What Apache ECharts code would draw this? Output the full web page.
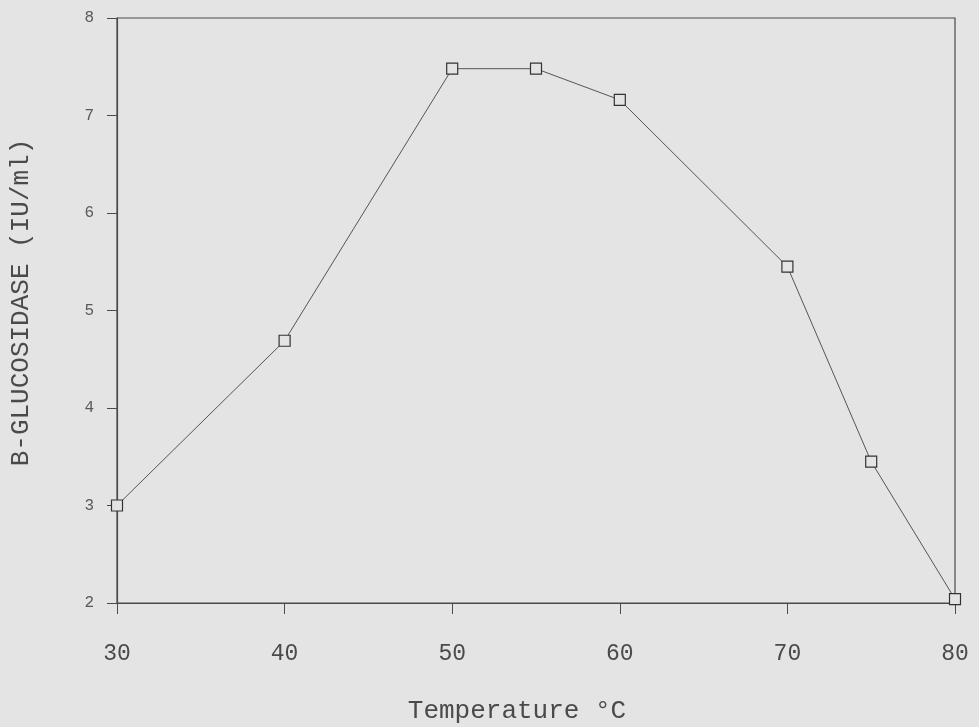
<!DOCTYPE html>
<html>
<head>
<meta charset="utf-8">
<script src="https://cdn.jsdelivr.net/npm/echarts@6/dist/echarts.min.js"></script>
<style>
html,body{margin:0;padding:0;background:#e4e4e4;}
#chart{width:979px;height:727px;}
</style>
</head>
<body>
<div id="chart"></div>
<script>
const temperatures = [30, 40, 50, 55, 60, 70, 75, 80];
const activity = [3.0, 4.69, 7.48, 7.48, 7.16, 5.45, 3.45, 2.04];
const xTicks = [30, 40, 50, 60, 70, 80];
const yTicks = [2, 3, 4, 5, 6, 7, 8];

const font = "'Liberation Mono', 'DejaVu Sans Mono', monospace";
const ink = '#4a4a4a';

const chart = echarts.init(document.getElementById('chart'), null, {renderer: 'canvas'});
chart.setOption({
  backgroundColor: '#e4e4e4',
  animation: false,
  grid: {left: 117, right: 24, top: 18, bottom: 124, outerBoundsMode: 'none', containLabel: false,
         show: true, borderColor: ink, borderWidth: 1.2, backgroundColor: 'transparent'},
  xAxis: {
    type: 'value', min: xTicks[0], max: xTicks[xTicks.length - 1], interval: 10,
    name: 'Temperature °C', nameLocation: 'middle', nameGap: 95,
    nameTextStyle: {fontFamily: font, fontSize: 26, color: ink, padding: [0, 38, 0, 0]},
    axisLine: {show: true, lineStyle: {color: ink, width: 1.2}},
    axisTick: {show: true, inside: false, length: 11, lineStyle: {color: ink}},
    axisLabel: {margin: 39, fontFamily: font, fontSize: 23, color: ink},
    splitLine: {show: false}
  },
  yAxis: {
    type: 'value', min: yTicks[0], max: yTicks[yTicks.length - 1], interval: 1,
    name: 'B-GLUCOSIDASE (IU/ml)', nameLocation: 'middle', nameGap: 83, nameRotate: 90,
    nameTextStyle: {fontFamily: font, fontSize: 26, color: ink, padding: [0, 0, 0, 16]},
    axisLine: {show: true, lineStyle: {color: ink, width: 1.2}},
    axisTick: {show: true, inside: false, length: 10, lineStyle: {color: ink}},
    axisLabel: {margin: 23, fontFamily: font, fontSize: 16, color: '#5a5a5a'},
    splitLine: {show: false}
  },
  series: [{
    type: 'line',
    data: temperatures.map((t, i) => [t, activity[i]]),
    symbol: 'rect', symbolSize: 11,
    lineStyle: {color: '#555', width: 1},
    itemStyle: {color: '#e4e4e4', borderColor: '#333', borderWidth: 1.2},
    z: 5
  }]
});
</script>
</body>
</html>
